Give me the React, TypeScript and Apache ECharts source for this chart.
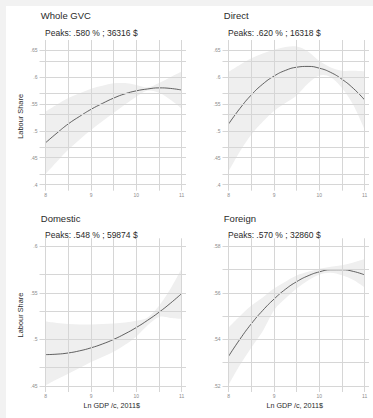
import React, { useEffect, useRef } from "react";
import * as echarts from "echarts";

// ---- data ----
const xValues = [8, 8.25, 8.5, 8.75, 9, 9.25, 9.5, 9.75, 10, 10.25, 10.5, 10.75, 11];

const gvcLine = [0.478, 0.496, 0.513, 0.527, 0.540, 0.551, 0.561, 0.569, 0.5745, 0.578, 0.580, 0.579, 0.576];
const gvcUpper = [0.536, 0.549, 0.561, 0.570, 0.5785, 0.584, 0.5885, 0.589, 0.5855, 0.581, 0.589, 0.600, 0.6105];
const gvcLower = [0.420, 0.443, 0.465, 0.484, 0.5015, 0.518, 0.5335, 0.549, 0.5635, 0.575, 0.571, 0.558, 0.5415];

const directLine = [0.513, 0.542, 0.567, 0.587, 0.602, 0.6125, 0.6185, 0.620, 0.6167, 0.6088, 0.596, 0.579, 0.5575];
const directUpper = [0.610, 0.623, 0.635, 0.644, 0.651, 0.656, 0.657, 0.648, 0.630, 0.618, 0.612, 0.612, 0.611];
const directLower = [0.425, 0.462, 0.493, 0.517, 0.537, 0.552, 0.566, 0.588, 0.603, 0.600, 0.580, 0.548, 0.502];

const domesticLine = [0.4835, 0.484, 0.4853, 0.4876, 0.4908, 0.4949, 0.4999, 0.5059, 0.5127, 0.5205, 0.5291, 0.5387, 0.5492];
const domesticUpper = [0.519, 0.5175, 0.5165, 0.516, 0.516, 0.5163, 0.517, 0.518, 0.520, 0.5235, 0.536, 0.554, 0.576];
const domesticLower = [0.4505, 0.457, 0.463, 0.469, 0.4755, 0.481, 0.4865, 0.494, 0.503, 0.515, 0.524, 0.523, 0.522];

const foreignLine = [0.5328, 0.5401, 0.5467, 0.5524, 0.5573, 0.5615, 0.5648, 0.5673, 0.569, 0.5699, 0.5699, 0.5692, 0.5677];
const foreignUpper = [0.5451, 0.550, 0.5545, 0.558, 0.5618, 0.5648, 0.5674, 0.569, 0.5703, 0.5712, 0.5718, 0.573, 0.5745];
const foreignLower = [0.5205, 0.529, 0.5365, 0.5435, 0.5525, 0.5575, 0.5618, 0.5653, 0.5678, 0.5686, 0.5675, 0.5655, 0.5623];

const panelTitles = ["Whole GVC", "Direct", "Domestic", "Foreign"];
const peakLabels = [
  "Peaks: .580 % ; 36316 $",
  "Peaks: .620 % ; 16318 $",
  "Peaks: .548 % ; 59874 $",
  "Peaks: .570 % ; 32860 $",
];

const xTicks = [8, 9, 10, 11];
const xTickLabels = ["8", "9", "10", "11"];
const xGridValues = [8, 8.5, 9, 9.5, 10, 10.5, 11];

const yTicksTop = [0.4, 0.45, 0.5, 0.55, 0.6, 0.65];
const yTickLabelsTop = [".4", ".45", ".5", ".55", ".6", ".65"];
const yGridTop = [0.4, 0.425, 0.45, 0.475, 0.5, 0.525, 0.55, 0.575, 0.6, 0.625, 0.65];

const yTicksDomestic = [0.45, 0.5, 0.55, 0.6];
const yTickLabelsDomestic = [".45", ".5", ".55", ".6"];
const yGridDomestic = [0.45, 0.475, 0.5, 0.525, 0.55, 0.575, 0.6];

const yTicksForeign = [0.52, 0.54, 0.56, 0.58];
const yTickLabelsForeign = [".52", ".54", ".56", ".58"];
const yGridForeign = [0.52, 0.53, 0.54, 0.55, 0.56, 0.57, 0.58];

const yAxisTitle = "Labour Share";
const xAxisTitle = "Ln GDP /c, 2011$";

// ---- layout ----
const OFF = 6; // white card offset inside grey page
const FONT = "'Liberation Sans', Arial, sans-serif";

// smooth path (Catmull-Rom -> cubic Bezier) through pixel points
function splineSegments(pts: number[][], moveFirst: boolean): string {
  let d = moveFirst ? `M${pts[0][0]},${pts[0][1]}` : `L${pts[0][0]},${pts[0][1]}`;
  const n = pts.length;
  for (let i = 0; i < n - 1; i++) {
    const p0 = pts[Math.max(0, i - 1)];
    const p1 = pts[i];
    const p2 = pts[i + 1];
    const p3 = pts[Math.min(n - 1, i + 2)];
    const c1x = p1[0] + (p2[0] - p0[0]) / 6;
    const c1y = p1[1] + (p2[1] - p0[1]) / 6;
    const c2x = p2[0] - (p3[0] - p1[0]) / 6;
    const c2y = p2[1] - (p3[1] - p1[1]) / 6;
    d += ` C${c1x},${c1y} ${c2x},${c2y} ${p2[0]},${p2[1]}`;
  }
  return d;
}

export default function App() {
  const ref = useRef<HTMLDivElement>(null);

  useEffect(() => {
    if (!ref.current) return;
    const chart = echarts.init(ref.current, undefined, { renderer: "svg" });

    const panels = [
      { line: gvcLine, upper: gvcUpper, lower: gvcLower, yTicks: yTicksTop, yLabels: yTickLabelsTop, yGrid: yGridTop, yMin: 0.38845, yMax: 0.6692, left: 39.5, top: 40, height: 150.7, yTitle: true, xTitle: false },
      { line: directLine, upper: directUpper, lower: directLower, yTicks: yTicksTop, yLabels: yTickLabelsTop, yGrid: yGridTop, yMin: 0.38845, yMax: 0.6692, left: 222.5, top: 40, height: 150.7, yTitle: false, xTitle: false },
      { line: domesticLine, upper: domesticUpper, lower: domesticLower, yTicks: yTicksDomestic, yLabels: yTickLabelsDomestic, yGrid: yGridDomestic, yMin: 0.4433, yMax: 0.6086, left: 39.5, top: 238.3, height: 153.7, yTitle: true, xTitle: true },
      { line: foreignLine, upper: foreignUpper, lower: foreignLower, yTicks: yTicksForeign, yLabels: yTickLabelsForeign, yGrid: yGridForeign, yMin: 0.51733, yMax: 0.58344, left: 222.5, top: 238.3, height: 153.7, yTitle: false, xTitle: true },
    ];
    const gridWidth = 146.5;
    const xMin = 7.863;
    const xMax = 11.095;
    const pxPerX = gridWidth / (xMax - xMin);

    const grids: any[] = [];
    const xAxes: any[] = [];
    const yAxes: any[] = [];
    const series: any[] = [];
    const graphics: any[] = [];

    panels.forEach((p, i) => {
      grids.push({ left: p.left - OFF, top: p.top - OFF, width: gridWidth, height: p.height, containLabel: false });
      xAxes.push({
        gridIndex: i, type: "value", min: xMin, max: xMax,
        axisLine: { show: false }, axisTick: { show: false }, splitLine: { show: false },
        axisLabel: {
          customValues: xTicks, fontSize: 5, color: "#8c8c8c", margin: 1.5, fontFamily: FONT,
          formatter: (v: number) => { const k = xTicks.findIndex((t) => Math.abs(t - v) < 1e-9); return k >= 0 ? xTickLabels[k] : ""; },
        },
      });
      yAxes.push({
        gridIndex: i, type: "value", min: p.yMin, max: p.yMax,
        axisLine: { show: false }, axisTick: { show: false }, splitLine: { show: false },
        axisLabel: {
          customValues: p.yTicks, fontSize: 5, color: "#8c8c8c", margin: 2, fontFamily: FONT,
          formatter: (v: number) => { const k = p.yTicks.findIndex((t) => Math.abs(t - v) < 1e-9); return k >= 0 ? p.yLabels[k] : ""; },
        },
      });
      // grid lines
      series.push({
        type: "line", xAxisIndex: i, yAxisIndex: i, data: [], z: 1, silent: true,
        markLine: {
          silent: true, symbol: ["none", "none"], label: { show: false }, animation: false,
          lineStyle: { color: "#d6d6d6", width: 1, type: "solid" },
          emphasis: { disabled: true },
          data: [...xGridValues.map((v) => ({ xAxis: v })), ...p.yGrid.map((v) => ({ yAxis: v }))],
        },
      });
      // confidence band
      const bandData = xValues.map((x, j) => [x, p.lower[j], p.upper[j]]);
      series.push({
        type: "custom", xAxisIndex: i, yAxisIndex: i, z: 2, silent: true,
        data: bandData,
        encode: { x: 0, y: [1, 2] },
        renderItem: (params: any, api: any) => {
          if (params.dataIndex !== 0) return null;
          const up = bandData.map((d) => api.coord([d[0], d[2]]));
          const lo = bandData.map((d) => api.coord([d[0], d[1]])).reverse();
          const pathData = splineSegments(up, true) + " " + splineSegments(lo, false) + " Z";
          return { type: "path", shape: { pathData }, style: { fill: "#efefef", stroke: "none" } };
        },
      });
      // fitted line
      series.push({
        type: "line", xAxisIndex: i, yAxisIndex: i, symbol: "none", smooth: true, z: 3, silent: true,
        lineStyle: { color: "#3c3c3c", width: 0.8 },
        data: xValues.map((x, j) => [x, p.line[j]]),
      });

      const x8 = p.left + (8 - xMin) * pxPerX;
      const x11 = p.left + (11 - xMin) * pxPerX;
      const titleY = p.top < 100 ? 15.7 : 218.3;
      const peakY = p.top < 100 ? 33.3 : 234.6;
      graphics.push({
        type: "text", x: p.left + 1.3 - OFF, y: titleY - OFF,
        style: { text: panelTitles[i], font: `9.5px ${FONT}`, fill: "#2a2a2a", align: "left", verticalAlign: "middle" },
      });
      graphics.push({
        type: "text", x: x8 - 0.7 - OFF, y: peakY - OFF,
        style: { text: peakLabels[i], font: `8.5px ${FONT}`, fill: "#2a2a2a", align: "left", verticalAlign: "middle" },
      });
      if (p.yTitle) {
        const tickTopPx = p.top + ((p.yMax - p.yTicks[p.yTicks.length - 1]) / (p.yMax - p.yMin)) * p.height;
        const tickBotPx = p.top + ((p.yMax - p.yTicks[0]) / (p.yMax - p.yMin)) * p.height;
        graphics.push({
          type: "text", x: 20.7 - OFF, y: (tickTopPx + tickBotPx) / 2 - 1 - OFF, rotation: Math.PI / 2,
          style: { text: yAxisTitle, font: `7.4px ${FONT}`, fill: "#2a2a2a", align: "center", verticalAlign: "middle" },
        });
      }
      if (p.xTitle) {
        graphics.push({
          type: "text", x: (x8 + x11) / 2 - 2 - OFF, y: 405 - OFF,
          style: { text: xAxisTitle, font: `7.2px ${FONT}`, fill: "#2a2a2a", align: "center", verticalAlign: "middle" },
        });
      }
    });

    chart.setOption({
      animation: false,
      backgroundColor: "#ffffff",
      grid: grids,
      xAxis: xAxes,
      yAxis: yAxes,
      series,
      graphic: graphics,
      tooltip: { show: false },
    });

    return () => chart.dispose();
  }, []);

  return (
    <div style={{ position: "fixed", left: 0, top: 0, width: 373, height: 418, background: "#f2f2f2" }}>
      <div ref={ref} style={{ position: "absolute", left: OFF, top: OFF, width: 373 - OFF, height: 418 - OFF }} />
    </div>
  );
}
